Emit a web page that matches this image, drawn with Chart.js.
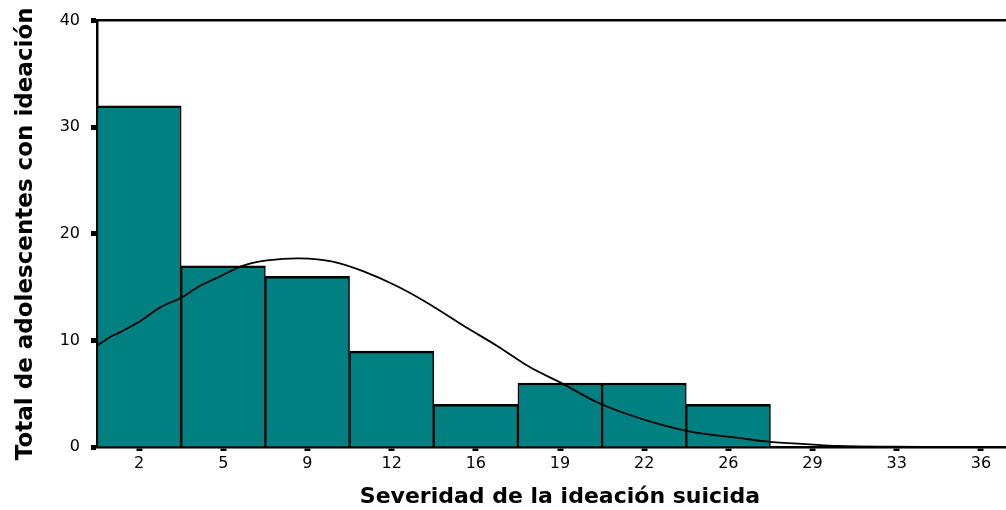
<!DOCTYPE html>
<html>
<head>
<meta charset="utf-8">
<script src="https://cdn.jsdelivr.net/npm/chart.js@4.4.1/dist/chart.umd.min.js"></script>
<style>
  html, body { margin: 0; padding: 0; background: #fff; overflow: hidden; }
  #wrap { width: 1030px; height: 510px; }
</style>
</head>
<body>
<div id="wrap"><canvas id="histChart" width="1030" height="510"></canvas></div>
<script>
    // Histogram bins (tick labels) and counts
    const categories = ["2", "5", "9", "12", "16", "19", "22", "26", "29", "33", "36"];
    const counts = [32, 17, 16, 9, 4, 6, 6, 4, 0, 0, 0];

    // Normal curve (x in bin units: 0 = left edge, 11 = right edge)
    const curveX = [0, 0.15, 0.27, 0.51, 0.75, 1.0, 1.22, 1.46, 1.73, 2.02, 2.41, 2.8,
                    3.16, 3.56, 3.95, 4.35, 4.75, 5.14, 5.54, 5.94, 6.33, 6.7, 7.08,
                    7.67, 7.97, 8.47, 8.79, 9.45, 10.2, 11];
    const curveY = [9.5, 10.3, 10.75, 11.8, 13.1, 14.0, 15.1, 16.0, 17.0, 17.5, 17.7, 17.4,
                    16.5, 15.1, 13.4, 11.4, 9.5, 7.5, 5.9, 4.2, 3.0, 2.1, 1.4,
                    0.8, 0.5, 0.25, 0.1, 0.03, 0.01, 0];

    const yTicks = [0, 10, 20, 30, 40];

    const curvePoints = curveX.map((x, i) => ({ x: x, y: curveY[i] }));

    const ctx = document.getElementById("histChart").getContext("2d");

    new Chart(ctx, {
      type: "bar",
      data: {
        labels: categories,
        datasets: [
          {
            type: "line",
            data: curvePoints,
            xAxisID: "x2",
            yAxisID: "y",
            borderColor: "#000",
            borderWidth: 1.8,
            pointRadius: 0,
            tension: 0.3,
            fill: false,
            order: 0
          },
          {
            data: counts,
            xAxisID: "x",
            yAxisID: "y",
            backgroundColor: "#008080",
            borderColor: "#000",
            borderWidth: { top: 2.5, left: 1.5, right: 1.5, bottom: 0 },
            borderSkipped: false,
            barPercentage: 1,
            categoryPercentage: 1,
            grouped: false,
            order: 1
          }
        ]
      },
      options: {
        responsive: false,
        animation: false,
        layout: { padding: { top: 17, right: 7, bottom: 0, left: 0 } },
        plugins: { legend: { display: false }, tooltip: { enabled: false } },
        scales: {
          x: {
            type: "category",
            position: "bottom",
            offset: true,
            grid: { drawOnChartArea: false, offset: false, tickLength: 4, tickWidth: 6, tickColor: "#000" },
            border: { display: true, color: "#000", width: 2.5 },
            ticks: { color: "#000", padding: 3, maxRotation: 0, font: { family: "DejaVu Sans", size: 16 } },
            title: {
              display: true,
              text: "Severidad de la ideación suicida",
              color: "#000",
              padding: { top: 0, bottom: 0 },
              font: { family: "DejaVu Sans", size: 22, weight: "bold" }
            },
            afterFit: (scale) => { scale.height = 63; }
          },
          x2: {
            type: "linear",
            position: "top",
            offset: false,
            min: 0,
            max: 11,
            grid: { drawOnChartArea: false, drawTicks: false, offset: false },
            border: { display: true, color: "#000", width: 2.5 },
            ticks: { display: false },
            afterFit: (scale) => { scale.height = 0; }
          },
          y: {
            min: 0,
            max: 40,
            afterBuildTicks: (scale) => { scale.ticks = yTicks.map(v => ({ value: v })); },
            grid: { drawOnChartArea: false, tickLength: 6, tickWidth: 5, tickColor: "#000" },
            border: { display: true, color: "#000", width: 2.5 },
            ticks: { color: "#000", padding: 11, font: { family: "DejaVu Sans", size: 16 } },
            title: {
              display: true,
              text: "Total de adolescentes con ideación",
              color: "#000",
              padding: { top: 12, bottom: 0 },
              font: { family: "DejaVu Sans", size: 23, weight: "bold" }
            },
            afterFit: (scale) => { scale.width = 97; }
          }
        }
      }
    });
</script>
</body>
</html>
